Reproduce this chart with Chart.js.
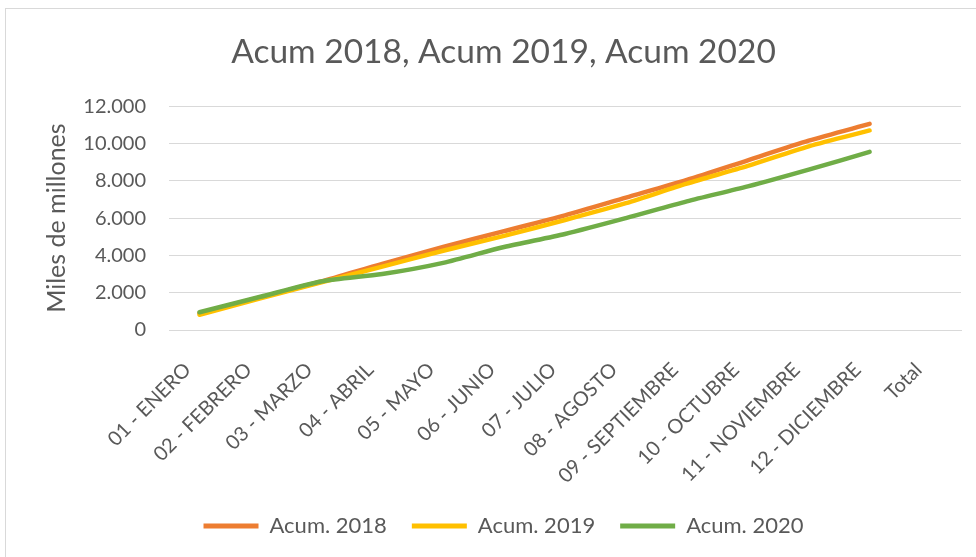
<!DOCTYPE html>
<html>
<head>
<meta charset="utf-8">
<script src="https://cdn.jsdelivr.net/npm/chart.js@4.4.0/dist/chart.umd.min.js"></script>
<style>
  body { margin: 0; background: #fff; }
  #marco { position: absolute; left: 5px; top: 8px; width: 1000px; height: 600px; border: 1px solid #d9d9d9; }
  #grafica { position: absolute; left: 0; top: 0; }
</style>
</head>
<body>
<div id="marco"></div>
<canvas id="grafica" width="976" height="557"></canvas>
<script>
const meses = ["01 - ENERO", "02 - FEBRERO", "03 - MARZO", "04 - ABRIL", "05 - MAYO", "06 - JUNIO",
    "07 - JULIO", "08 - AGOSTO", "09 - SEPTIEMBRE", "10 - OCTUBRE", "11 - NOVIEMBRE", "12 - DICIEMBRE", "Total"];
const acum2018 = [900, 1750, 2600, 3550, 4450, 5300, 6150, 7100, 8050, 9100, 10150, 11050, null];
const acum2019 = [820, 1700, 2550, 3400, 4250, 5050, 5900, 6800, 7850, 8800, 9850, 10700, null];
const acum2020 = [950, 1780, 2600, 3000, 3600, 4450, 5150, 6000, 6900, 7700, 8600, 9550, null];
const ticksY = [0, 2000, 4000, 6000, 8000, 10000, 12000];

const gris = "#595959";
const fuente = "Lato, 'Liberation Sans', sans-serif";

function formatoMiles(valor) {
    return String(valor).replace(/\B(?=(\d{3})+(?!\d))/g, ".");
}

function serie(nombre, datos, color, orden) {
    return {
        label: nombre,
        data: datos,
        borderColor: color,
        backgroundColor: color,
        borderWidth: 4.5,
        borderCapStyle: "round",
        borderJoinStyle: "round",
        pointRadius: 0,
        tension: 0.25,
        order: orden,
    };
}

const ctx = document.getElementById("grafica");
new Chart(ctx, {
    type: "line",
    data: {
        labels: meses,
        datasets: [
            serie("Acum. 2018", acum2018, "#ED7D31", 3),
            serie("Acum. 2019", acum2019, "#FFC000", 2),
            serie("Acum. 2020", acum2020, "#70AD47", 1),
        ],
    },
    options: {
        responsive: false,
        animation: false,
        layout: { padding: { left: 46, right: 15, top: 0, bottom: 10 } },
        plugins: {
            title: {
                display: true,
                text: "Acum 2018, Acum 2019, Acum 2020",
                color: gris,
                font: { family: fuente, size: 33.5, weight: "normal" },
                padding: { top: 32, bottom: 34 },
            },
            legend: {
                position: "bottom",
                labels: {
                    color: gris,
                    font: { family: fuente, size: 22 },
                    boxWidth: 55,
                    boxHeight: 5,
                    padding: 25,
                    sort: (a, b) => a.datasetIndex - b.datasetIndex,
                    generateLabels: (chart) => {
                        const items = Chart.defaults.plugins.legend.labels.generateLabels(chart);
                        items.forEach((item) => { item.lineWidth = 0; });
                        return items;
                    },
                },
            },
            tooltip: { enabled: false },
        },
        scales: {
            x: {
                offset: true,
                grid: { display: false },
                border: { color: "#d9d9d9" },
                ticks: {
                    color: gris,
                    font: { family: fuente, size: 20 },
                    minRotation: 45,
                    maxRotation: 45,
                    autoSkip: false,
                    padding: 20,
                    labelOffset: -12,
                },
                afterFit: (scale) => { scale.height = 160; },
            },
            y: {
                min: 0,
                max: 12000,
                afterBuildTicks: (scale) => { scale.ticks = ticksY.map((v) => ({ value: v })); },
                grid: { color: "#d9d9d9", drawTicks: false },
                border: { display: false },
                ticks: {
                    color: gris,
                    font: { family: fuente, size: 20 },
                    padding: 23,
                    callback: (valor) => formatoMiles(valor),
                },
                title: {
                    display: true,
                    text: "Miles de millones",
                    color: gris,
                    font: { family: fuente, size: 25 },
                    padding: { top: -4, bottom: 0 },
                },
                afterFit: (scale) => { scale.width = 123; },
            },
        },
    },
});
</script>
</body>
</html>
